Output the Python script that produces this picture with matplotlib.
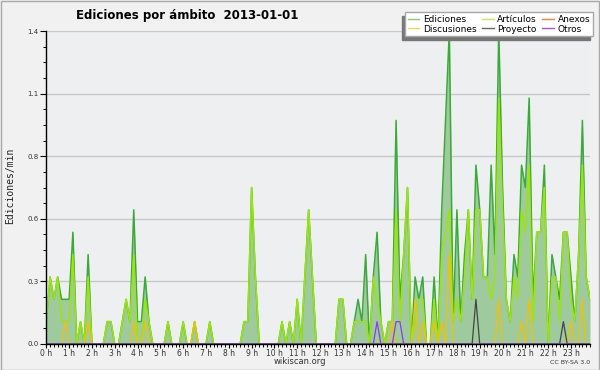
import numpy as np
import matplotlib
matplotlib.use("Agg")
import matplotlib.pyplot as plt
from matplotlib.patches import Rectangle
from matplotlib.ticker import FixedLocator, MultipleLocator

# edits per minute, one value every 10 minutes (6 per hour, one row = one hour)
ediciones = [
    0.1, 0.3, 0.2, 0.3, 0.2, 0.2,
    0.2, 0.5, 0.0, 0.1, 0.0, 0.4,
    0.0, 0.0, 0.0, 0.0, 0.1, 0.1,
    0.0, 0.0, 0.1, 0.2, 0.1, 0.6,
    0.1, 0.1, 0.3, 0.1, 0.0, 0.0,
    0.0, 0.0, 0.1, 0.0, 0.0, 0.0,
    0.1, 0.0, 0.0, 0.1, 0.0, 0.0,
    0.0, 0.1, 0.0, 0.0, 0.0, 0.0,
    0.0, 0.0, 0.0, 0.0, 0.1, 0.1,
    0.7, 0.3, 0.0, 0.0, 0.0, 0.0,
    0.0, 0.0, 0.1, 0.0, 0.1, 0.0,
    0.2, 0.0, 0.3, 0.6, 0.3, 0.0,
    0.0, 0.0, 0.0, 0.0, 0.0, 0.2,
    0.2, 0.0, 0.0, 0.1, 0.2, 0.1,
    0.4, 0.0, 0.3, 0.5, 0.1, 0.0,
    0.1, 0.1, 1.0, 0.2, 0.4, 0.7,
    0.0, 0.3, 0.2, 0.3, 0.0, 0.0,
    0.3, 0.0, 0.6, 1.0, 1.4, 0.1,
    0.6, 0.1, 0.4, 0.6, 0.2, 0.8,
    0.6, 0.3, 0.3, 0.8, 0.4, 1.4,
    0.7, 0.2, 0.1, 0.4, 0.3, 0.8,
    0.7, 1.1, 0.2, 0.5, 0.5, 0.8,
    0.0, 0.4, 0.3, 0.2, 0.5, 0.5,
    0.3, 0.1, 0.4, 1.0, 0.3, 0.2,
]

articulos = [
    0.1, 0.3, 0.2, 0.3, 0.1, 0.1,
    0.1, 0.4, 0.0, 0.1, 0.0, 0.3,
    0.0, 0.0, 0.0, 0.0, 0.1, 0.1,
    0.0, 0.0, 0.1, 0.2, 0.1, 0.4,
    0.0, 0.0, 0.2, 0.1, 0.0, 0.0,
    0.0, 0.0, 0.1, 0.0, 0.0, 0.0,
    0.1, 0.0, 0.0, 0.1, 0.0, 0.0,
    0.0, 0.1, 0.0, 0.0, 0.0, 0.0,
    0.0, 0.0, 0.0, 0.0, 0.1, 0.1,
    0.7, 0.3, 0.0, 0.0, 0.0, 0.0,
    0.0, 0.0, 0.1, 0.0, 0.1, 0.0,
    0.2, 0.0, 0.3, 0.6, 0.3, 0.0,
    0.0, 0.0, 0.0, 0.0, 0.0, 0.2,
    0.2, 0.0, 0.0, 0.1, 0.1, 0.1,
    0.1, 0.0, 0.3, 0.2, 0.1, 0.0,
    0.1, 0.1, 0.6, 0.1, 0.4, 0.7,
    0.0, 0.1, 0.2, 0.2, 0.0, 0.0,
    0.2, 0.0, 0.4, 0.5, 0.6, 0.1,
    0.2, 0.1, 0.3, 0.6, 0.2, 0.6,
    0.6, 0.3, 0.3, 0.2, 0.3, 1.1,
    0.6, 0.2, 0.1, 0.3, 0.2, 0.6,
    0.5, 0.8, 0.1, 0.5, 0.5, 0.7,
    0.0, 0.3, 0.3, 0.1, 0.5, 0.5,
    0.2, 0.1, 0.4, 0.8, 0.3, 0.2,
]

# the small series are mostly zero, so only list the bins that have something
discusiones_pts = {5: 0.1, 11: 0.1, 23: 0.1, 26: 0.1, 39: 0.1, 91: 0.1,
                   97: 0.2, 99: 0.1, 102: 0.1, 104: 0.1, 106: 0.4,
                   119: 0.2, 125: 0.1, 127: 0.2, 138: 0.1, 141: 0.2}
proyecto_pts = {113: 0.2, 136: 0.1}
otros_pts = {87: 0.1, 92: 0.1, 93: 0.1}
anexos_pts = {}

hour_labels = ["%d h" % h for h in range(24)]
y_ticks = [0.0, 0.28, 0.56, 0.84, 1.12, 1.4]


def expand(pts, n=144):
    vals = np.zeros(n)
    for k, v in pts.items():
        vals[k] = v
    return vals


n = len(ediciones)
x = np.arange(n) / 6.0  # hours
discusiones = expand(discusiones_pts, n)
proyecto = expand(proyecto_pts, n)
otros = expand(otros_pts, n)
anexos = expand(anexos_pts, n)

W, H = 600, 370
fig = plt.figure(figsize=(6, 3.7), dpi=100, facecolor="#f1f1f1")
ax = fig.add_axes([46.3 / W, 26 / H, (590 - 46.3) / W, 313 / H])
ax.set_facecolor("#eeeff1")

# horizontal grid
for yv in y_ticks[1:]:
    ax.axhline(yv, color="#c9c9c9", lw=1, zorder=0.5)

c_ed = "#3aaa3a"
c_art = "#9be60a"
c_disc = "#f2c200"
c_anex = "#ff7f3f"
c_proy = "#444444"
c_otros = "#8a3cf0"

ax.fill_between(x, ediciones, 0, color="#9fca9d", lw=0, zorder=1)
ax.plot(x, ediciones, color=c_ed, lw=1.1, zorder=2)
ax.plot(x, articulos, color=c_art, lw=1.1, zorder=2.1)
ax.plot(x, anexos, color=c_anex, lw=0.9, zorder=2.2)
ax.plot(x, discusiones, color=c_disc, lw=0.9, zorder=2.2)
ax.plot(x, proyecto, color=c_proy, lw=0.9, zorder=2.2)
ax.plot(x, otros, color=c_otros, lw=0.9, zorder=2.2)

ax.set_xlim(0, (n - 1) / 6.0)
ax.set_ylim(0, 1.4)

ax.spines["top"].set_visible(False)
ax.spines["right"].set_visible(False)
ax.spines["left"].set_zorder(3)
ax.spines["bottom"].set_zorder(3)
ax.spines["left"].set_linewidth(1)
ax.spines["bottom"].set_linewidth(1)

ax.xaxis.set_major_locator(FixedLocator(range(24)))
ax.set_xticklabels(hour_labels)
ax.xaxis.set_minor_locator(MultipleLocator(1 / 6.0))
ax.yaxis.set_major_locator(FixedLocator(y_ticks))
ax.set_yticklabels(["%.1f" % v for v in y_ticks])
ax.yaxis.set_minor_locator(MultipleLocator(0.07))

ax.tick_params(axis="x", which="major", length=3, width=0.8, pad=0.3,
               labelsize=5.5, labelcolor="#333333")
ax.tick_params(axis="x", which="minor", length=2, width=0.7)
ax.tick_params(axis="y", which="major", length=4, width=0.8, pad=1.5,
               labelsize=5, labelcolor="#333333")
ax.tick_params(axis="y", which="minor", length=2.5, width=0.7)

fig.text(187 / W, 1 - 16 / H, "Ediciones por ámbito  2013-01-01",
         ha="center", va="center", fontsize=8.5, fontweight="bold")
# y label looks like a monospaced font in the original
fig.text(10 / W, 1 - 186 / H, "Ediciones/min", rotation=90,
         ha="center", va="center", fontsize=7, color="#222222",
         family="DejaVu Sans Mono")
fig.text(300 / W, 1 - 361 / H, "wikiscan.org", ha="center", va="center",
         fontsize=6, color="#333333")
fig.text(590 / W, 1 - 362 / H, "CC BY-SA 3.0", ha="right", va="center",
         fontsize=4.5, color="#333333")

# legend: matplotlib fills columns first, so order is col by col
handles = [
    plt.Line2D([], [], color="#86c986", lw=1),
    plt.Line2D([], [], color="#ffd24d", lw=1),
    plt.Line2D([], [], color="#c8ee55", lw=1),
    plt.Line2D([], [], color="#666666", lw=1),
    plt.Line2D([], [], color=c_anex, lw=1),
    plt.Line2D([], [], color="#9955ee", lw=1),
]
labels = ["Ediciones", "Discusiones", "Artículos", "Proyecto", "Anexos", "Otros"]
leg = fig.legend(handles, labels, ncol=3, loc="upper right",
                 bbox_to_anchor=(593 / W, 1 - 12 / H),
                 bbox_transform=fig.transFigure, fontsize=6.5,
                 frameon=True, fancybox=False, borderaxespad=0,
                 handlelength=1.3, handletextpad=0.4, columnspacing=0.6,
                 labelspacing=0.1, borderpad=0.3,
                 shadow={"ox": -2.4, "oy": -2.6, "facecolor": "#777777",
                         "edgecolor": "#777777", "alpha": 1})
leg.get_frame().set_edgecolor("#a8a8a8")
leg.get_frame().set_linewidth(1)

# thin border around the whole picture
fig.add_artist(Rectangle((0.5 / W, 0.5 / H), 1 - 1.5 / W, 1 - 1.5 / H,
                         transform=fig.transFigure, fill=False,
                         edgecolor="#a9a9a9", lw=1))

fig.savefig("out.png", dpi=100, facecolor=fig.get_facecolor())
